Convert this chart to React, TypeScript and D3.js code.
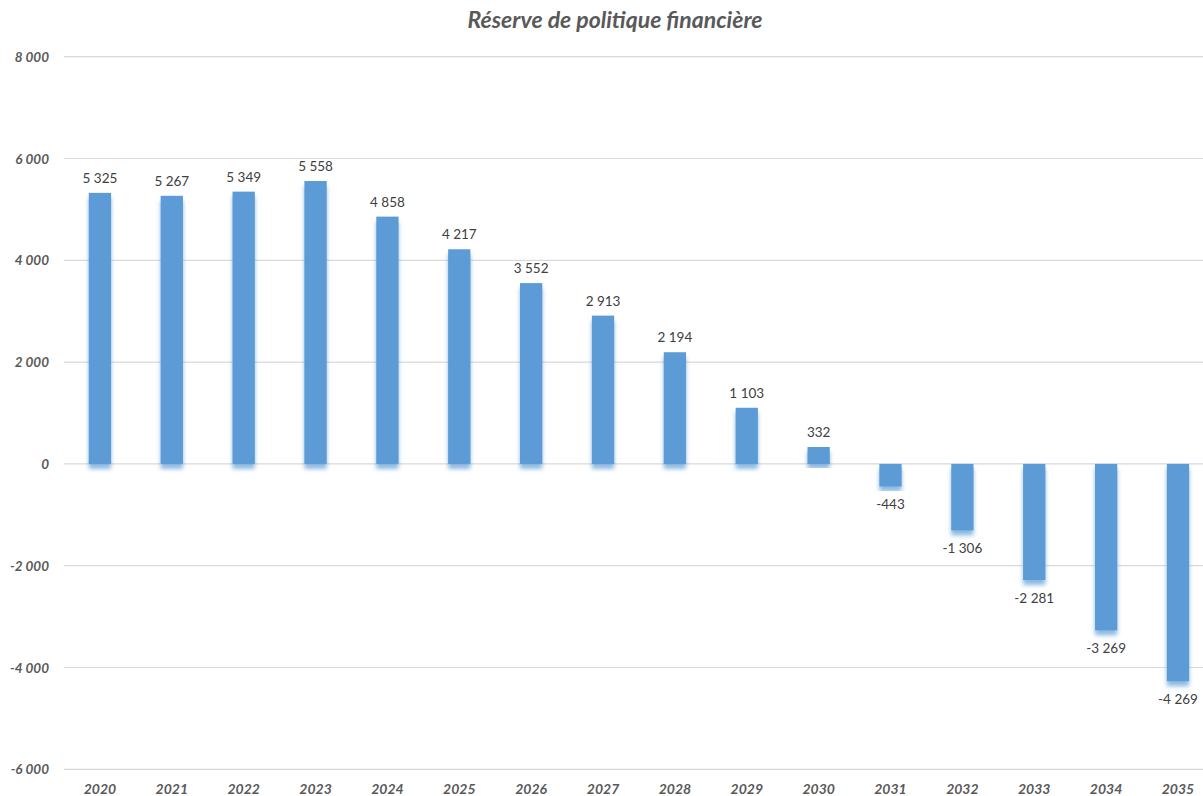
import React from "react";
import * as d3 from "d3";

const years = ["2020","2021","2022","2023","2024","2025","2026","2027","2028","2029","2030","2031","2032","2033","2034","2035"];
const values = [5325, 5267, 5349, 5558, 4858, 4217, 3552, 2913, 2194, 1103, 332, -443, -1306, -2281, -3269, -4269];
const yTicks = [-6000, -4000, -2000, 0, 2000, 4000, 6000, 8000];
const title = "Réserve de politique financière";

const W = 1203, H = 796;
const fmt = (v: number) => {
  const s = Math.abs(v).toString().replace(/\B(?=(\d{3})+(?!\d))/g, " ");
  return (v < 0 ? "-" : "") + s;
};

export default function App() {
  const x = d3.scaleBand<string>().domain(years).range([64, 64 + 16 * 71.87]).paddingInner(0.69).paddingOuter(0.345);
  const y = d3.scaleLinear().domain([-6000, 8000]).range([769.3, 56.7]);
  const font = "Lato, 'Open Sans', sans-serif";
  return (
    <svg width={W} height={H} style={{ position: "absolute", left: 0, top: 0, background: "#fff" }} fontFamily={font}>
      <defs>
        <filter id="glow" x="-50%" y="-10%" width="200%" height="130%">
          <feDropShadow dx="0" dy="5" stdDeviation="2" floodColor="#5B9BD5" floodOpacity="0.7" />
        </filter>
      </defs>
      <text x={615} y={28} textAnchor="middle" fontSize={23} fontWeight="bold" fontStyle="italic" fill="#595959">{title}</text>
      {yTicks.map(t => (
        <g key={t}>
          <line x1={64} x2={W} y1={y(t)} y2={y(t)} stroke="#d9d9d9" strokeWidth={1.2} />
          <text x={49} y={y(t) + 5} textAnchor="end" fontSize={13.5} fontWeight="bold" fontStyle="italic" fill="#595959">{fmt(t)}</text>
        </g>
      ))}
      {values.map((v, i) => {
        const bx = x(years[i])!;
        const bw = x.bandwidth();
        const y0 = y(Math.max(0, v));
        const h = Math.abs(y(v) - y(0));
        const cx = bx + bw / 2;
        const ly = v >= 0 ? y(v) - 10 : y(v) + 23;
        return (
          <g key={years[i]}>
            <rect x={bx} y={y0} width={bw} height={h} fill="#5B9BD5" filter="url(#glow)" />
            <text x={cx} y={ly} textAnchor="middle" fontSize={13.5} fill="#404040">{fmt(v)}</text>
          </g>
        );
      })}
      {years.map(yr => (
        <text key={yr} x={x(yr)! + x.bandwidth() / 2} y={794} textAnchor="middle" fontSize={14} fontWeight="bold" fontStyle="italic" fill="#595959">{yr}</text>
      ))}
    </svg>
  );
}
